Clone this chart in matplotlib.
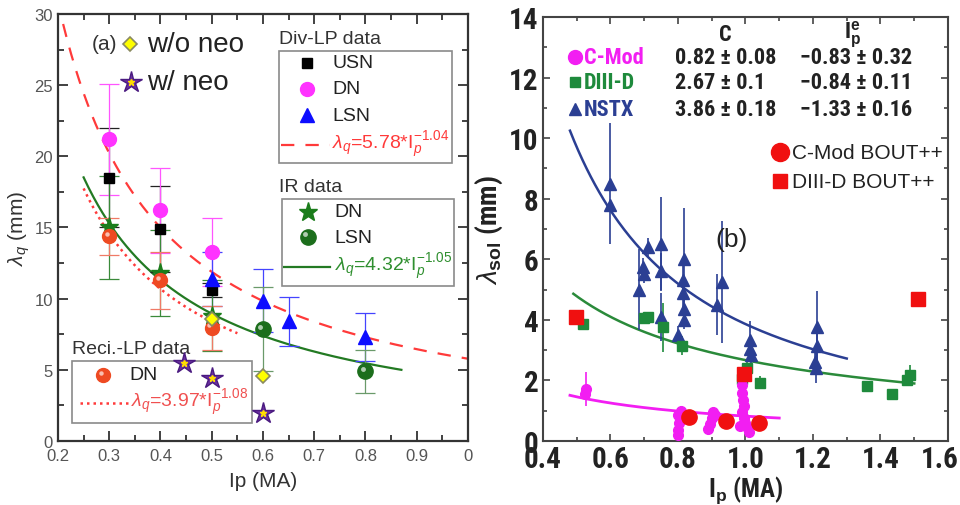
import matplotlib
matplotlib.use('Agg')
import matplotlib.pyplot as plt
import numpy as np
from matplotlib import font_manager
from matplotlib.font_manager import FontProperties
from matplotlib.patches import Rectangle
from matplotlib.transforms import offset_copy, ScaledTranslation
from matplotlib.ticker import MultipleLocator

plt.rcParams['font.family'] = ['Liberation Sans', 'DejaVu Sans']
plt.rcParams['mathtext.fontset'] = 'custom'
plt.rcParams['mathtext.rm'] = 'Liberation Sans'
plt.rcParams['mathtext.it'] = 'Liberation Sans:italic'
plt.rcParams['mathtext.bf'] = 'Liberation Sans:bold'


def find_narrow_bold():
    # look for a condensed / narrow bold sans file, right panel uses one
    fl = font_manager.fontManager.ttflist
    def isbold(f):
        return f.weight in (700, 'bold')
    for key in ['Liberation Sans Narrow', 'Roboto Condensed', 'Open Sans Condensed']:
        for f in fl:
            if f.name == key and isbold(f) and f.style == 'normal':
                return f.fname
    for f in fl:
        if isbold(f) and f.style == 'normal' and f.stretch in ('condensed', 'semi-condensed') \
                and 'Sans' in f.name and 'Mono' not in f.name and 'CJK' not in f.name:
            return f.fname
    for f in fl:
        if f.name == 'DejaVu Sans' and isbold(f) and f.stretch == 'condensed' and f.style == 'normal':
            return f.fname
    return None


NB_FILE = find_narrow_bold()


def bfont(size):
    if NB_FILE:
        return FontProperties(fname=NB_FILE, size=size)
    return FontProperties(family='Liberation Sans', weight='bold', size=size * 0.9)


# ---- panel (a) data ----
ip_div = [0.3, 0.4, 0.5]
usn = [18.5, 14.9, 10.6]
usn_err = [3.5, 3.0, 0.5]
dn = [21.2, 16.2, 13.3]
dn_err = [3.9, 3.0, 2.4]
lsn_ip = [0.5, 0.6, 0.65, 0.8]
lsn = [11.4, 9.85, 8.4, 7.3]
lsn_err = [1.9, 2.2, 1.75, 1.7]
ir_dn_ip = [0.3, 0.4, 0.5]
ir_dn = [15.0, 11.8, 8.8]
ir_dn_err = [3.6, 3.0, 2.5]
ir_lsn_ip = [0.6, 0.8]
ir_lsn = [7.85, 4.9]
ir_lsn_err = [2.95, 1.5]
reci_ip = [0.3, 0.4, 0.5]
reci = [14.4, 11.3, 7.95]
reci_err = [1.3, 2.0, 1.55]
noneo_ip = [0.5, 0.6]
noneo = [8.6, 4.6]
neo_ip = [0.445, 0.5, 0.6]
neo = [5.45, 4.4, 1.95]
# fits: C, exponent, x range
fit_div = (5.78, -1.04, 0.21, 1.0)
fit_ir = (4.32, -1.05, 0.25, 0.87)
fit_reci = (3.97, -1.08, 0.25, 0.55)

# ---- panel (b) data ----
nstx_ip = [0.60, 0.60, 0.685, 0.695, 0.70, 0.712, 0.75, 0.75, 0.75, 0.80, 0.815, 0.815,
           0.818, 0.818, 0.818, 0.915, 0.93, 1.012, 1.012, 1.015, 1.212, 1.212, 1.205, 1.208]
nstx = [8.5, 7.8, 5.0, 5.75, 5.5, 6.4, 6.5, 5.6, 4.1, 3.5, 5.3, 4.9,
        6.0, 4.35, 4.0, 4.5, 5.25, 3.35, 3.05, 2.85, 3.75, 3.15, 2.6, 2.4]
nstx_err = [2.0, 0.0, 1.35, 0.3, 0.3, 0.3, 1.55, 0.6, 0.8, 0.3, 0.6, 0.5,
            1.7, 0.4, 0.3, 1.0, 2.0, 0.6, 0.4, 0.3, 1.2, 0.5, 0.4, 0.5]
d3d_ip = [0.52, 0.70, 0.71, 0.757, 0.812, 0.99, 1.003, 1.043, 1.36, 1.433, 1.478, 1.488]
d3d = [3.85, 4.05, 4.1, 3.75, 3.15, 2.05, 2.4, 1.93, 1.82, 1.55, 2.0, 2.17]
d3d_err = [0.15, 0.0, 0.0, 0.8, 0.3, 0.0, 0.2, 0.2, 0.1, 0.1, 0.2, 0.35]
cmod_ip = [0.527, 0.525, 0.80, 0.80, 0.803, 0.80, 0.81, 0.815, 0.89, 0.895, 0.90, 0.905,
           0.91, 0.99, 0.99, 0.992, 0.995, 0.99, 0.995, 1.0, 1.005, 1.01, 0.985]
cmod = [1.72, 1.55, 0.2, 0.35, 0.6, 0.85, 1.0, 0.75, 0.4, 0.55, 0.75, 0.95,
        0.85, 1.85, 1.6, 1.35, 1.15, 0.95, 0.75, 0.6, 0.45, 0.3, 0.5]
cmod_err = [0.55, 0, 0, 0, 0, 0, 0.15, 0, 0, 0, 0, 0, 0, 0, 0, 0, 0, 0, 0, 0, 0, 0, 0]
bout_cmod_ip = [0.833, 0.941, 1.041]
bout_cmod = [0.78, 0.67, 0.59]
bout_d3d_ip = [0.497, 0.997, 1.512]
bout_d3d = [4.1, 2.2, 4.69]
fit_nstx = (3.86, -1.33, 0.48, 1.30)
fit_d3d = (2.67, -0.84, 0.49, 1.50)
fit_cmod = (0.82, -0.83, 0.48, 1.10)
table_names = ['C-Mod', 'DIII-D', 'NSTX']
table_c = ['0.82 \u00b1 0.08', '2.67 \u00b1 0.1', '3.86 \u00b1 0.18']
table_e = ['\u22120.83 \u00b1 0.32', '\u22120.84 \u00b1 0.11', '\u22121.33 \u00b1 0.16']


def fit_curve(f):
    c, e, x0, x1 = f
    x = np.linspace(x0, x1, 200)
    return x, c * x ** e


fig = plt.figure(figsize=(9.6, 5.06), dpi=100)
axa = fig.add_axes([0.0604, 0.1265, 0.4271, 0.8439])
axb = fig.add_axes([0.5656, 0.1265, 0.4219, 0.838])

# ================= panel (a) =================
ax = axa
RED = '#ff3a3a'
GREEN = '#237a23'
MAG = '#ff33ff'
BLUE = '#0d0dff'
ORANGE = '#ee4a22'

s_usn = dict(marker='s', color='black', ms=7, ls='none')
s_dn = dict(marker='o', color=MAG, ms=10, ls='none')
s_lsn = dict(marker='^', color=BLUE, ms=10, ls='none')
s_star = dict(marker='*', color='#1b7d1b', ms=14, ls='none')
s_diam = dict(marker='D', mfc='#ffff00', mec='#8a8a60', mew=1.2, ms=7, ls='none')
s_neo = dict(marker='*', mfc='#6a2fa0', mec='#4a1a80', ms=16, ls='none')
s_neo_in = dict(marker='*', color='#ffdd00', ms=5, ls='none')


def sphere(ax, x, y, color, ms, tr=None, z=5):
    tr = tr if tr is not None else ax.transData
    ax.plot(x, y, 'o', color=color, ms=ms, transform=tr, zorder=z, clip_on=False)
    hl = offset_copy(tr, fig=ax.figure, x=-ms * 0.17, y=ms * 0.17, units='points')
    ax.plot(x, y, 'o', color='white', alpha=0.65, ms=ms * 0.32, mew=0,
            transform=hl, zorder=z + 0.1, clip_on=False)


def neo_star(ax, x, y, tr=None):
    tr = tr if tr is not None else ax.transData
    ax.plot(x, y, transform=tr, zorder=6, clip_on=False, **s_neo)
    ax.plot(x, y, transform=tr, zorder=6.1, clip_on=False, **s_neo_in)


eb = dict(fmt='none', capsize=7, elinewidth=0.9, capthick=0.9, zorder=3)
ax.errorbar(ip_div, usn, yerr=usn_err, ecolor='#222222', **eb)
ax.errorbar(ip_div, dn, yerr=dn_err, ecolor='#ff55ff', **eb)
ax.errorbar(lsn_ip, lsn, yerr=lsn_err, ecolor='#4444ff', **eb)
ax.errorbar(ir_dn_ip, ir_dn, yerr=ir_dn_err, ecolor='#3a8a3a', **eb)
ax.errorbar(ir_lsn_ip, ir_lsn, yerr=ir_lsn_err, ecolor='#6a9a6a', **eb)
ax.errorbar(reci_ip, reci, yerr=reci_err, ecolor='#f07a66', **eb)

x, y = fit_curve(fit_div)
ax.plot(x, y, color=RED, lw=1.6, ls=(0, (6, 5)), zorder=2)
x, y = fit_curve(fit_ir)
ax.plot(x, y, color=GREEN, lw=1.6, zorder=2)
x, y = fit_curve(fit_reci)
ax.plot(x, y, color=RED, lw=1.8, ls=(0, (1, 1.6)), zorder=2)

ax.plot(ip_div, dn, zorder=5, **s_dn)
ax.plot(ip_div, usn, zorder=5, **s_usn)
ax.plot(lsn_ip, lsn, zorder=5, **s_lsn)
ax.plot(ir_dn_ip, ir_dn, zorder=5, **s_star)
sphere(ax, ir_lsn_ip, ir_lsn, '#1c6e1c', 11)
sphere(ax, reci_ip, reci, ORANGE, 10)
ax.plot(noneo_ip, noneo, zorder=6, **s_diam)
neo_star(ax, neo_ip, neo)

ax.set_xlim(0.2, 1.0)
ax.set_ylim(0, 30)
ax.xaxis.set_minor_locator(MultipleLocator(0.05))
ax.yaxis.set_major_locator(MultipleLocator(5))
ax.yaxis.set_minor_locator(MultipleLocator(2.5))
ax.set_xticks(np.arange(0.2, 1.01, 0.1))
ax.set_xticklabels(['0.2', '0.3', '0.4', '0.5', '0.6', '0.7', '0.8', '0.9', '0'])
ax.tick_params(which='both', direction='in', top=True, right=True, width=1.3,
               colors='#333333', labelsize=12, labelcolor='#555555')
ax.tick_params(which='major', length=7)
ax.tick_params(which='minor', length=4)
ax.tick_params(axis='x', pad=5)
for s in ax.spines.values():
    s.set_linewidth(1.6)
    s.set_color('#333333')
ax.set_xlabel('Ip (MA)', fontsize=15, color='#333333', labelpad=6)
ax.set_ylabel(r'$\lambda_q$ (mm)', fontsize=15, color='#333333', labelpad=2)

# annotations
ax.text(0.266, 27.9, '(a)', fontsize=15, color='#333333', va='center')
ax.plot([0.340], [27.9], zorder=6, clip_on=False, **s_diam)
ax.text(0.374, 27.9, 'w/o neo', fontsize=20, color='#222222', va='center')
neo_star(ax, [0.342], [25.25])
ax.text(0.374, 25.25, 'w/ neo', fontsize=20, color='#222222', va='center')


def box(ax, x0, y0, x1, y1):
    ax.add_patch(Rectangle((x0, y0), x1 - x0, y1 - y0, fill=False, ec='#8a8a8a',
                           lw=1.2, zorder=4, clip_on=False))


FS = 14
TXT = '#222222'
# Div-LP legend
ax.text(0.631, 28.3, 'Div-LP data', fontsize=FS, color='#333333', va='center')
box(ax, 0.631, 19.53, 0.969, 27.40)
ax.plot([0.686], [26.56], **s_usn)
ax.text(0.735, 26.56, 'USN', fontsize=FS, color=TXT, va='center')
ax.plot([0.686], [24.73], **s_dn)
ax.text(0.735, 24.73, 'DN', fontsize=FS, color=TXT, va='center')
ax.plot([0.686], [22.9], **s_lsn)
ax.text(0.735, 22.9, 'LSN', fontsize=FS, color=TXT, va='center')
ax.plot([0.635, 0.731], [20.8, 20.8], color=RED, lw=1.6, ls=(0, (6, 5)))
ax.text(0.735, 20.9, r'$\lambda_q$=5.78*I$_p^{-1.04}$', fontsize=FS, color=RED, va='center')

# IR legend
ax.text(0.631, 17.85, 'IR data', fontsize=FS, color='#333333', va='center')
box(ax, 0.637, 10.89, 0.973, 17.0)
ax.plot([0.688], [16.09], **s_star)
ax.text(0.740, 16.09, 'DN', fontsize=FS, color=TXT, va='center')
sphere(ax, [0.688], [14.33], '#1c6e1c', 11)
ax.text(0.740, 14.33, 'LSN', fontsize=FS, color=TXT, va='center')
ax.plot([0.641, 0.731], [12.23, 12.23], color=GREEN, lw=1.6)
ax.text(0.740, 12.33, r'$\lambda_q$=4.32*I$_p^{-1.05}$', fontsize=FS, color='#2f8f2f', va='center')

# Reci legend
ax.text(0.227, 6.53, 'Reci.-LP data', fontsize=FS, color='#333333', va='center')
box(ax, 0.227, 1.26, 0.579, 5.62)
sphere(ax, [0.288], [4.64], ORANGE, 10)
ax.text(0.340, 4.64, 'DN', fontsize=FS, color=TXT, va='center')
ax.plot([0.243, 0.337], [2.67, 2.67], color=RED, lw=1.8, ls=(0, (1, 1.6)))
ax.text(0.342, 2.77, r'$\lambda_q$=3.97*I$_p^{-1.08}$', fontsize=FS, color='#f05050', va='center')

# ================= panel (b) =================
ax = axb
NB = '#2b3f93'
DG = '#1e8a3c'
CM = '#f21ef2'
RR = '#f01010'

ebb = dict(fmt='none', elinewidth=1.2, capsize=0, zorder=3)
ax.errorbar(nstx_ip, nstx, yerr=nstx_err, ecolor=NB, **ebb)
ax.errorbar(d3d_ip, d3d, yerr=d3d_err, ecolor=DG, **ebb)
ax.errorbar(cmod_ip, cmod, yerr=cmod_err, ecolor=CM, **ebb)

x, y = fit_curve(fit_nstx)
ax.plot(x, y, color=NB, lw=1.8, zorder=2)
x, y = fit_curve(fit_d3d)
ax.plot(x, y, color='#2a8a3a', lw=1.8, zorder=2)
x, y = fit_curve(fit_cmod)
ax.plot(x, y, color=CM, lw=2.0, zorder=2)

ax.plot(nstx_ip, nstx, '^', color=NB, ms=8, zorder=4)
ax.plot(d3d_ip, d3d, 's', color=DG, ms=7, zorder=4)
ax.plot(cmod_ip, cmod, 'o', color=CM, ms=7, zorder=4)
ax.plot(bout_d3d_ip, bout_d3d, 's', color=RR, ms=10, zorder=5)
ax.plot(bout_cmod_ip, bout_cmod, 'o', color=RR, ms=11, zorder=5)

ax.set_xlim(0.4, 1.6)
ax.set_ylim(0, 14)
ax.xaxis.set_minor_locator(MultipleLocator(0.1))
ax.yaxis.set_minor_locator(MultipleLocator(1))
ax.set_xticks(np.arange(0.4, 1.61, 0.2))
ax.set_xticklabels(['0.4', '0.6', '0.8', '1.0', '1.2', '1.4', '1.6'])
ax.set_yticks(np.arange(0, 14.1, 2))
ax.set_yticklabels([str(v) for v in range(0, 15, 2)])
ax.tick_params(which='both', direction='in', top=True, right=True, width=1.2,
               colors='#444444', labelcolor='#222222', pad=3)
ax.tick_params(which='major', length=5)
ax.tick_params(which='minor', length=3)
for lab in ax.get_xticklabels() + ax.get_yticklabels():
    lab.set_fontproperties(bfont(21))
xl = ax.get_xticklabels()
xl[-1].set_transform(xl[-1].get_transform() +
                     ScaledTranslation(-8 / 100, 0, fig.dpi_scale_trans))
for s in ax.spines.values():
    s.set_linewidth(1.5)
    s.set_color('#444444')
ax.set_xlabel(r'I$_\mathbf{p}$ (MA)', fontproperties=bfont(18), color='#222222', labelpad=0)
ax.set_ylabel(r'$\lambda_\mathbf{sol}$ (mm)', fontproperties=bfont(20), color='#222222',
              labelpad=3)

# fit table
tp = bfont(16)
tb = dict(fontproperties=tp, va='center')
ax.text(0.939, 13.45, 'C', color='#222222', ha='center', **tb)
ax.text(1.316, 13.45, r'I$_\mathbf{p}^\mathbf{e}$', color='#222222', ha='center', **tb)
rows_y = [12.68, 11.85, 10.96]
row_col = [CM, DG, NB]
row_mk = ['o', 's', '^']
row_ms = [10, 7.5, 8.5]
for name, cval, eval_, yy, col, mk, ms in zip(table_names, table_c, table_e, rows_y,
                                              row_col, row_mk, row_ms):
    ax.plot([0.494], [yy], mk, color=col, ms=ms, clip_on=False)
    ax.text(0.522, yy, name, color=col, **tb)
    ax.text(0.791, yy, cval, color='#222222', **tb)
    ax.text(1.161, yy, eval_, color='#222222', **tb)

ax.plot([1.102], [9.54], 'o', color=RR, ms=13)
ax.text(1.137, 9.54, 'C-Mod BOUT++', fontsize=15, color='#222222', va='center')
ax.plot([1.102], [8.58], 's', color=RR, ms=10)
ax.text(1.137, 8.58, 'DIII-D BOUT++', fontsize=15, color='#222222', va='center')
ax.text(0.96, 6.67, '(b)', fontsize=19, color='#222222', ha='center', va='center')

fig.savefig('out.png', dpi=100)
